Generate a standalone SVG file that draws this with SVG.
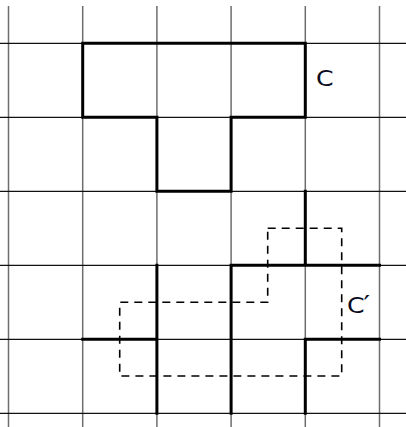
<svg xmlns="http://www.w3.org/2000/svg" width="406" height="427" viewBox="0 0 406 427">
<style>
.v{stroke:#6e6e6e;stroke-width:1.5;fill:none}
.h{stroke:#111;stroke-width:1.2;fill:none}
.thick{stroke:#000;stroke-width:3;fill:none;stroke-linecap:square}
.dash{stroke:#000;stroke-width:1.6;fill:none;stroke-dasharray:8 6}
.lbl{font-family:"DejaVu Sans",sans-serif;font-size:21px;fill:#0a0a1e}
</style>
<rect width="406" height="427" fill="#fff"/>
<g id="grid">
<path class="v" d="M8.5 6V427M82.7 6V427M156.9 6V427M231.1 6V427M305.3 6V427M379.5 6V427"/>
<path class="h" d="M0 43.3H406M0 117.3H406M0 191.3H406M0 265.3H406M0 339.3H406M0 413.3H406"/>
</g>
<g id="C">
<path class="thick" d="M82.7 43.3H305.3V117.3H231.1V191.3H156.9V117.3H82.7Z"/>
<text class="lbl" x="316" y="86" transform="translate(316 86) scale(1.2 1) translate(-316 -86)">C</text>
</g>
<g id="Cprime">
<path class="thick" d="M305.3 191.3V265.3M231.1 265.3H379.5M231.1 265.3V413.3M156.9 265.3V413.3M82.7 339.3H156.9M305.3 339.3H379.5M305.3 339.3V413.3"/>
<path class="dash" d="M267.7 228.3H341.7V376H119.7V302.3H267.7Z"/>
<text class="lbl" x="347" y="313" transform="translate(347 313) scale(1.2 1) translate(-347 -313)">C<tspan font-size="24" dx="-1">′</tspan></text>
</g>
</svg>
